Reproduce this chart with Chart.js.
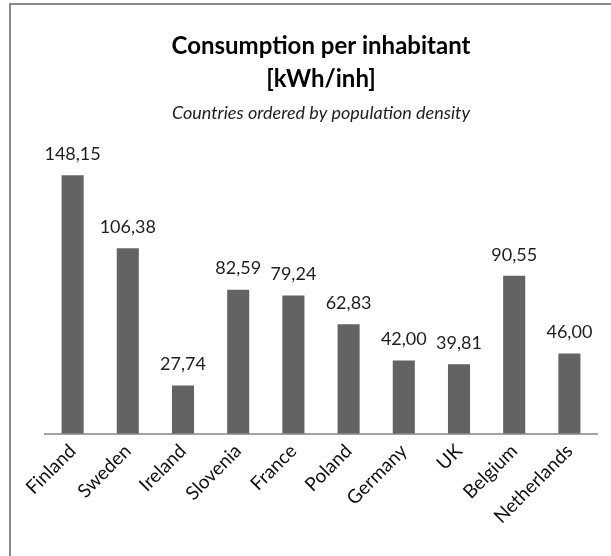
<!DOCTYPE html>
<html lang="en">
<head>
    <meta charset="UTF-8">
    <title>Consumption per inhabitant</title>
    <script src="https://cdn.jsdelivr.net/npm/chart.js"></script>
    <style>
        html, body { margin: 0; padding: 0; background: #fff; overflow: hidden; }
        #frame {
            position: absolute; left: 9px; top: 3px; width: 700px; height: 700px;
            border: 2px solid #8a8a8a;
        }
        #wrap { position: absolute; left: 0; top: 0; width: 611px; height: 556px; }
    </style>
</head>
<body>
    <div id="frame"></div>
    <div id="wrap"><canvas id="consumptionChart" width="611" height="556"></canvas></div>
<script>
    // categories (ordered by population density)
    const countries = ['Finland', 'Sweden', 'Ireland', 'Slovenia', 'France', 'Poland', 'Germany', 'UK', 'Belgium', 'Netherlands'];
    // kWh per inhabitant
    const consumption = [148.15, 106.38, 27.74, 82.59, 79.24, 62.83, 42.00, 39.81, 90.55, 46.00];

    // value labels above the bars, comma as decimal separator
    const valueLabels = {
        id: 'valueLabels',
        afterDatasetsDraw(chart) {
            const ctx = chart.ctx;
            const meta = chart.getDatasetMeta(0);
            ctx.save();
            ctx.font = '18px Lato';
            ctx.fillStyle = '#1e1e1e';
            ctx.textAlign = 'center';
            ctx.textBaseline = 'middle';
            meta.data.forEach((bar, i) => {
                const txt = consumption[i].toFixed(2).replace('.', ',');
                ctx.fillText(txt, bar.x, bar.y - 21);
            });
            ctx.restore();
        }
    };

    const ctx = document.getElementById('consumptionChart').getContext('2d');
    new Chart(ctx, {
        type: 'bar',
        data: {
            labels: countries,
            datasets: [{
                data: consumption,
                backgroundColor: '#636363',
                borderWidth: 0,
                barPercentage: 0.4,
                categoryPercentage: 1
            }]
        },
        options: {
            responsive: false,
            animation: false,
            layout: { padding: { left: 45, right: 14, top: 30, bottom: 22 } },
            plugins: {
                legend: { display: false },
                tooltip: { enabled: false },
                title: {
                    display: true,
                    text: ['Consumption per inhabitant', '[kWh/inh]'],
                    color: '#000',
                    font: { family: 'Lato', size: 24, weight: 'bold', lineHeight: 1.375 },
                    padding: { top: 0, bottom: 0 }
                },
                subtitle: {
                    display: true,
                    text: 'Countries ordered by population density',
                    color: '#222',
                    font: { family: 'Lato', size: 18, style: 'italic', lineHeight: 1.2 },
                    padding: { top: 6, bottom: 31 }
                }
            },
            scales: {
                x: {
                    grid: { display: true, drawOnChartArea: false, drawTicks: false },
                    border: { display: true, color: '#a3a3a3', width: 2 },
                    ticks: {
                        color: '#111',
                        font: { family: 'Lato', size: 19 },
                        minRotation: 45,
                        maxRotation: 45,
                        padding: 6
                    }
                },
                y: {
                    display: false,
                    min: 0,
                    max: 160
                }
            }
        },
        plugins: [valueLabels]
    });
</script>
</body>
</html>
